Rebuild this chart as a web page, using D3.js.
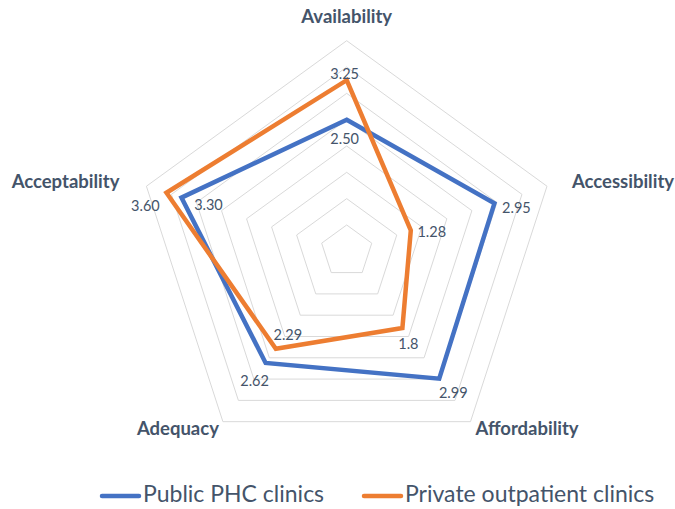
<!DOCTYPE html>
<html>
  <head>
    <meta charset="utf-8">
    <title>Radar</title>
    <script src="https://cdn.jsdelivr.net/npm/d3@7"></script>
    <style type="text/css">
      body { margin: 0; background: #fff; }
      text { font-family: Lato, "Open Sans", sans-serif; fill: #44546A; }
    </style>
  </head>
  <body>
    <script>
    // axes and series values
    var axes = ["Availability", "Accessibility", "Affordability", "Adequacy", "Acceptability"];
    var publicPHC = [2.50, 2.95, 2.99, 2.62, 3.30];
    var privateClinics = [3.25, 1.28, 1.8, 2.29, 3.60];
    var publicLabels = ["2.50", "2.95", "2.99", "2.62", "3.30"];
    var privateLabels = ["3.25", "1.28", "1.8", "2.29", "3.60"];
    var seriesNames = ["Public PHC clinics", "Private outpatient clinics"];
    var gridLevels = [0.5, 1, 1.5, 2, 2.5, 3, 3.5, 4];

    var width = 675, height = 509;
    var cx = 346.7, cy = 251.3, R = 210.6;
    var colors = ["#4472C4", "#ED7D31"];

    // label nudges (px) relative to each point
    var publicOffset = [[-2, 21], [22, 6], [14, 16], [-11, 19], [27, 9]];
    var privateOffset = [[-2, -5], [21, 3], [6, 17], [12, -13], [-21, 15]];

    var rScale = d3.scaleLinear().domain([0, 4]).range([0, R]);
    var angle = function(i) { return i * 2 * Math.PI / axes.length; };
    var px = function(i, v) { return cx + rScale(v) * Math.sin(angle(i)); };
    var py = function(i, v) { return cy - rScale(v) * Math.cos(angle(i)); };

    var svg = d3.select("body").append("svg")
        .attr("width", width)
        .attr("height", height);

    var g = svg.append("g").attr("transform", "translate(" + cx + "," + cy + ")");

    var radial = d3.lineRadial()
        .angle(function(d, i) { return angle(i); })
        .radius(function(d) { return rScale(d); })
        .curve(d3.curveLinearClosed);

    // grid pentagons
    g.selectAll(".grid")
      .data(gridLevels)
      .enter()
      .append("path")
        .attr("d", function(l) { return radial(axes.map(function() { return l; })); })
        .attr("fill", "none")
        .attr("stroke", "#D9D9D9")
        .attr("stroke-width", 1);

    // series
    [publicPHC, privateClinics].forEach(function(s, k) {
      g.append("path")
        .attr("d", radial(s))
        .attr("fill", "none")
        .attr("stroke", colors[k])
        .attr("stroke-width", 4.5)
        .attr("stroke-linejoin", "miter");
    });

    // data labels
    function addLabels(vals, labels, offs) {
      svg.append("g").selectAll("text")
        .data(vals)
        .enter()
        .append("text")
          .attr("x", function(d, i) { return px(i, d) + offs[i][0]; })
          .attr("y", function(d, i) { return py(i, d) + offs[i][1]; })
          .attr("text-anchor", "middle")
          .attr("dominant-baseline", "middle")
          .style("font-size", "14.5px")
          .text(function(d, i) { return labels[i]; });
    }
    addLabels(publicPHC, publicLabels, publicOffset);
    addLabels(privateClinics, privateLabels, privateOffset);

    // axis titles
    var titlePos = [
      {dx: 0, dy: -22, anchor: "middle"},
      {dx: 25, dy: -3, anchor: "start"},
      {dx: 5, dy: 9, anchor: "start"},
      {dx: -4, dy: 9, anchor: "end"},
      {dx: -27, dy: -3, anchor: "end"}
    ];
    svg.append("g").selectAll("text")
      .data(axes)
      .enter()
      .append("text")
        .attr("x", function(d, i) { return px(i, 4) + titlePos[i].dx; })
        .attr("y", function(d, i) { return py(i, 4) + titlePos[i].dy; })
        .attr("text-anchor", function(d, i) { return titlePos[i].anchor; })
        .attr("dominant-baseline", "middle")
        .style("font-size", "18.5px")
        .style("font-weight", "bold")
        .text(function(d) { return d; });

    // legend
    var legend = svg.append("g").attr("transform", "translate(0,496)");
    var legendX = [102, 364];
    seriesNames.forEach(function(name, k) {
      legend.append("line")
        .attr("x1", legendX[k]).attr("x2", legendX[k] + 37)
        .attr("y1", 0).attr("y2", 0)
        .attr("stroke", colors[k])
        .attr("stroke-width", 4.5)
        .attr("stroke-linecap", "round");
      legend.append("text")
        .attr("x", legendX[k] + 41)
        .attr("y", 0)
        .attr("dominant-baseline", "middle")
        .style("font-size", "23px")
        .text(name);
    });
    </script>
  </body>
</html>
